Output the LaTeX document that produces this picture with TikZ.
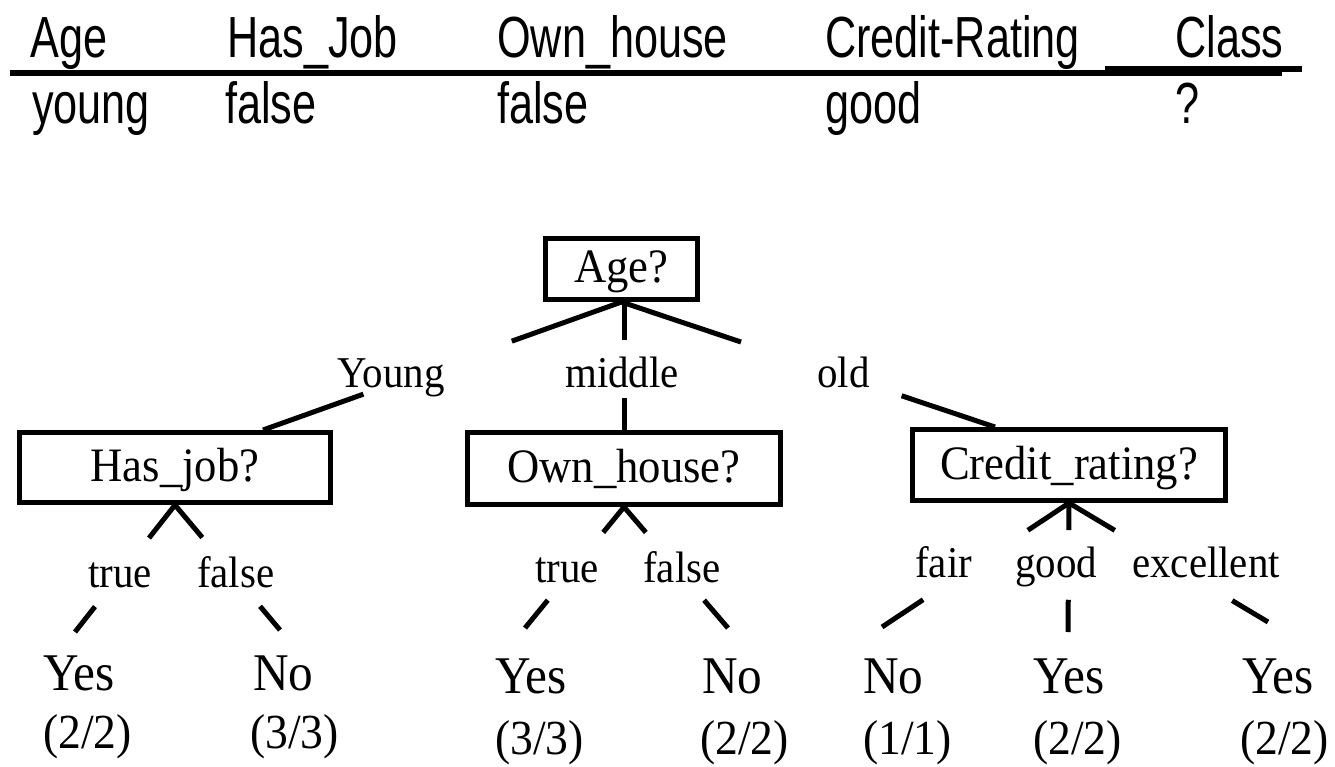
\documentclass[tikz,border=0pt]{standalone}
\usepackage{fontspec}
\usetikzlibrary{calc}
\newfontfamily\hdrfont[FakeStretch=0.745]{Liberation Sans}
\newfontfamily\treefont[FakeStretch=0.93]{Liberation Serif}

\begin{document}
\begin{tikzpicture}[x=1pt,y=-1pt,
  hdr/.style={anchor=base west,inner sep=0pt,font=\hdrfont\fontsize{58}{60}\selectfont},
  qbox/.style={draw,line width=5pt,inner sep=0pt,
    font=\treefont\fontsize{48}{50}\selectfont,text height=38pt,text depth=10pt},
  lbl/.style={anchor=base west,inner sep=0pt,font=\treefont\fontsize{44}{46}\selectfont},
  leaf/.style={anchor=base west,inner sep=0pt,font=\treefont\fontsize{53}{55}\selectfont},
  cnt/.style={anchor=base west,inner sep=0pt,font=\treefont\fontsize{49}{51}\selectfont},
  edge/.style={line width=5pt},
  rule/.style={line width=6pt}]

\useasboundingbox (0,0) rectangle (1335,767);

% ---- the query record ----
\node[hdr] (hAge)   at (30,58)   {Age};
\node[hdr] (hJob)   at (227,58)  {Has\_Job};
\node[hdr] (hHouse) at (497,58)  {Own\_house};
\node[hdr] (hCred)  at (825,58)  {Credit-Rating};
\node[hdr] (hClass) at (1175,58) {Class};
\draw[rule] (10,73) -- (1282,73);
\draw[rule] (1105,69) -- (1302,69);
\node[hdr] (vAge)   at (32,124)   {young};
\node[hdr] (vJob)   at (225,124)  {false};
\node[hdr] (vHouse) at (497,124)  {false};
\node[hdr] (vCred)  at (825,124)  {good};
\node[hdr] (vClass) at (1175,124) {?};

% ---- decision nodes ----
\node[qbox,minimum width=152pt,minimum height=61pt] (age) at (621.5,269) {Age?};
\node[qbox,minimum width=311pt,minimum height=70pt] (hj)  at (175,467.5) {Has\_job?};
\node[qbox,minimum width=313pt,minimum height=72pt] (oh)  at (624,468.5) {Own\_house?};
\node[qbox,minimum width=313pt,minimum height=71pt] (cr)  at (1069,465)  {Credit\_rating?};

% ---- branch labels ----
\node[lbl] (lYoung)  at (337,387) {Young};
\node[lbl] (lMiddle) at (565,387) {middle};
\node[lbl] (lOld)    at (817,387) {old};
\node[lbl] (lT1) at (88,587)  {true};
\node[lbl] (lF1) at (197,587) {false};
\node[lbl] (lT2) at (535,582) {true};
\node[lbl] (lF2) at (643,582) {false};
\node[lbl] (lFair) at (915,577)  {fair};
\node[lbl] (lGood) at (1015,577) {good};
\node[lbl] (lExc)  at (1132,577) {excellent};

% ---- leaves ----
\node[leaf] (y1) at (43,690)   {Yes};  \node[cnt] (c1) at (43,748)   {(2/2)};
\node[leaf] (n1) at (253,690)  {No};   \node[cnt] (c2) at (250,748)  {(3/3)};
\node[leaf] (y2) at (495,693)  {Yes};  \node[cnt] (c3) at (495,754)  {(3/3)};
\node[leaf] (n2) at (702,693)  {No};   \node[cnt] (c4) at (700,754)  {(2/2)};
\node[leaf] (n3) at (863,693)  {No};   \node[cnt] (c5) at (863,754)  {(1/1)};
\node[leaf] (y3) at (1033,693) {Yes};  \node[cnt] (c6) at (1033,754) {(2/2)};
\node[leaf] (y4) at (1242,693) {Yes};  \node[cnt] (c7) at (1240,754) {(2/2)};

% ---- connector end points ----
\coordinate (eYoung) at ([xshift=246pt]hj.north west);
\coordinate (eOld)   at ([xshift=85pt]cr.north west);
\coordinate (eMid)   at (age.south -| oh.north);
\coordinate (e1) at (75,632);
\coordinate (e2) at (280,630);
\coordinate (e3) at (525,628);
\coordinate (e4) at (728,628);
\coordinate (e5) at (882,627);
\coordinate (e6) at (1068,632);
\coordinate (e7) at (1268,622);

% ---- connectors, each broken where its label sits ----
\draw[edge] (age.south) -- ($(age.south)!.306!(eYoung)$);
\draw[edge] ($(age.south)!.72!(eYoung)$) -- (eYoung);
\draw[edge] (eMid) -- ($(eMid)!.30!(oh.north)$);
\draw[edge] ($(eMid)!.75!(oh.north)$) -- (oh.north);
\draw[edge] (age.south) -- ($(age.south)!.32!(eOld)$);
\draw[edge] ($(age.south)!.75!(eOld)$) -- (eOld);

\draw[edge] (hj.south) -- ($(hj.south)!.26!(e1)$);
\draw[edge] ($(hj.south)!.80!(e1)$) -- (e1);
\draw[edge] (hj.south) -- ($(hj.south)!.26!(e2)$);
\draw[edge] ($(hj.south)!.81!(e2)$) -- (e2);

\draw[edge] (oh.south) -- ($(oh.south)!.21!(e3)$);
\draw[edge] ($(oh.south)!.77!(e3)$) -- (e3);
\draw[edge] (oh.south) -- ($(oh.south)!.21!(e4)$);
\draw[edge] ($(oh.south)!.77!(e4)$) -- (e4);

\draw[edge] (cr.south) -- ($(cr.south)!.22!(e5)$);
\draw[edge] ($(cr.south)!.78!(e5)$) -- (e5);
\draw[edge] (cr.south) -- ($(cr.south)!.21!(e6)$);
\draw[edge] ($(cr.south)!.75!(e6)$) -- (e6);
\draw[edge] (cr.south) -- ($(cr.south)!.23!(e7)$);
\draw[edge] ($(cr.south)!.82!(e7)$) -- (e7);
\end{tikzpicture}
\end{document}
